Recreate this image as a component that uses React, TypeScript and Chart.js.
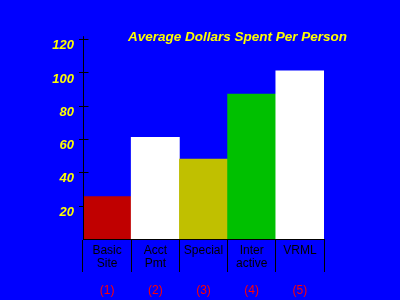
import React, { useEffect, useRef } from 'react';
import { Chart, registerables } from 'chart.js';

Chart.register(...registerables);

const categories: (string | string[])[] = [['Basic', 'Site'], ['Acct', 'Pmt'], 'Special', ['Inter', 'active'], 'VRML'];
const numberLabels = ['(1)', '(2)', '(3)', '(4)', '(5)'];
const values = [25.5, 61, 48, 87, 101];
const barColors = ['#c00000', '#ffffff', '#c0c000', '#00c000', '#ffffff'];
const yTickValues = [20, 40, 60, 80, 100, 120];
const titleText = 'Average Dollars Spent Per Person';

const FONT = "'Liberation Sans', Arial, sans-serif";

const axisDecor = {
  id: 'axisDecor',
  beforeDatasetsDraw(chart: any) {
    const y = chart.scales.y;
    const ctx = chart.ctx;
    const ax = chart.chartArea.left + 0.5;
    ctx.save();
    ctx.strokeStyle = '#000000';
    ctx.lineWidth = 1;
    y.ticks.forEach((t: any) => {
      const py = Math.round(y.getPixelForValue(t.value)) + 0.5;
      ctx.beginPath();
      ctx.moveTo(ax - 4.5, py);
      ctx.lineTo(ax + 5, py);
      ctx.stroke();
    });
    ctx.restore();
  },
  afterDatasetsDraw(chart: any) {
    const ctx = chart.ctx;
    const { left, top, bottom } = chart.chartArea;
    const ax = left + 0.5;
    ctx.save();
    ctx.strokeStyle = '#000000';
    ctx.lineWidth = 1;
    ctx.beginPath();
    ctx.moveTo(ax, top);
    ctx.lineTo(ax, bottom);
    ctx.stroke();
    ctx.restore();
  },
};

export default function App() {
  const ref = useRef<HTMLCanvasElement | null>(null);

  useEffect(() => {
    if (!ref.current) return;
    const chart = new Chart(ref.current, {
      type: 'bar',
      data: {
        labels: categories as any,
        datasets: [
          {
            data: values,
            backgroundColor: barColors,
            borderWidth: 0,
            barPercentage: 1,
            categoryPercentage: 1,
          },
        ],
      },
      plugins: [axisDecor],
      options: {
        responsive: false,
        animation: false,
        layout: { padding: { left: 0, right: 53, top: 0, bottom: 0 } },
        plugins: {
          legend: { display: false },
          tooltip: { enabled: false },
          title: {
            display: true,
            text: titleText,
            align: 'end',
            color: '#ffff00',
            font: { family: FONT, size: 13.5, weight: 'bold', style: 'italic', lineHeight: 1.2 },
            padding: { top: 29, bottom: -9 },
          },
        },
        scales: {
          x: {
            type: 'category',
            position: 'bottom',
            weight: 0,
            offset: true,
            grid: {
              display: true,
              offset: true,
              drawOnChartArea: false,
              drawTicks: true,
              tickLength: 33,
              color: '#000000',
              lineWidth: 1,
            },
            border: { display: true, color: '#000000', width: 1 },
            ticks: {
              color: '#000000',
              font: { family: FONT, size: 12, lineHeight: 1.06 },
              padding: -27.5,
              maxRotation: 0,
              minRotation: 0,
              autoSkip: false,
            },
            afterFit: (s: any) => {
              s.height = 33;
            },
          },
          x2: {
            type: 'category',
            labels: numberLabels,
            position: 'bottom',
            weight: 1,
            offset: true,
            grid: { display: false, drawTicks: false },
            border: { display: false },
            ticks: {
              color: '#ff0000',
              font: { family: FONT, size: 12, lineHeight: 1.2 },
              padding: 11.5,
              maxRotation: 0,
              minRotation: 0,
              autoSkip: false,
            },
            afterFit: (s: any) => {
              s.height = 28;
            },
          },
          y: {
            type: 'linear',
            position: 'left',
            min: 0,
            max: 121.8,
            afterBuildTicks: (s: any) => {
              s.ticks = yTickValues.map((v) => ({ value: v }));
            },
            grid: {
              display: false,
              drawOnChartArea: false,
              drawTicks: false,
            },
            border: { display: false },
            ticks: {
              color: '#ffff00',
              font: { family: FONT, size: 13, weight: 'bold', style: 'italic' },
              padding: 9,
              labelOffset: 6.5,
            },
            afterFit: (s: any) => {
              s.width = 83;
            },
          },
          y2: {
            type: 'linear',
            position: 'right',
            display: true,
            grid: { display: false, drawTicks: false },
            border: { display: false },
            ticks: { display: false },
            afterFit: (s: any) => {
              s.width = 23;
            },
          },
        },
      } as any,
    });
    return () => chart.destroy();
  }, []);

  return (
    <div style={{ position: 'absolute', left: 0, top: 0, width: 400, height: 300, background: '#0000ff' }}>
      <canvas ref={ref} width={400} height={300} style={{ display: 'block', background: '#0000ff' }} />
    </div>
  );
}
